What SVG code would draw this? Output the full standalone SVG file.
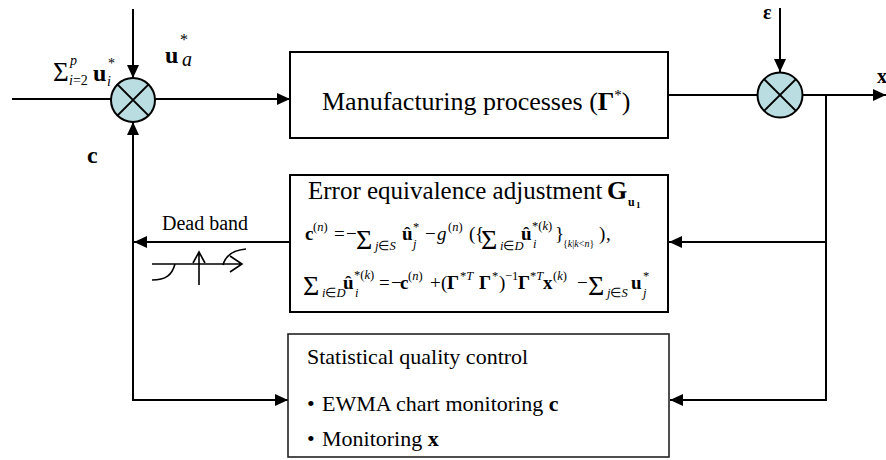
<svg xmlns="http://www.w3.org/2000/svg" width="886" height="460" viewBox="0 0 886 460">
  <style>
    text { font-family: "Liberation Serif", "Times New Roman", serif; fill: #000; }
    .box { fill: #fff; stroke: #000; stroke-width: 2; }
    .box3 { fill: #fff; stroke: #222; stroke-width: 1.6; }
    .sum { fill: #b9dde0; stroke: #000; stroke-width: 2; }
    .cross { stroke: #000; stroke-width: 2; fill: none; }
    .wire { stroke: #000; stroke-width: 2; fill: none; }
    .arrow { stroke: #000; stroke-width: 2; fill: none; marker-end: url(#head); }
    .thin { stroke: #000; stroke-width: 1.6; fill: none; }
    .b { font-weight: bold; }
    .i { font-style: italic; }
    .eq { font-size: 19px; }
    .sup { font-size: 12.5px; }
    .big { font-size: 28px; }
  </style>
  <defs>
    <marker id="head" markerUnits="userSpaceOnUse" markerWidth="14" markerHeight="12" refX="13" refY="6" orient="auto">
      <path d="M0,0 L13,6 L0,12 Z" fill="#000"/>
    </marker>
  </defs>

  <!-- connectors -->
  <g id="connectors">
    <path class="arrow" d="M133,9 V78"/>
    <path class="wire" d="M12,99 H111"/>
    <path class="arrow" d="M155,99 H290"/>
    <path class="wire" d="M668,95 H758"/>
    <path class="arrow" d="M780,8 V72"/>
    <path class="arrow" d="M802,95 H886"/>
    <path class="wire" d="M826,95 V401"/>
    <path class="arrow" d="M827,242 H669"/>
    <path class="arrow" d="M827,400 H670"/>
    <path class="arrow" d="M290,242 H134"/>
    <path class="arrow" d="M133,401 V122"/>
    <path class="arrow" d="M132,400 H288"/>
  </g>

  <!-- input summing junction -->
  <g id="sum-in">
    <circle class="sum" cx="133" cy="100" r="22"/>
    <path class="cross" d="M117.4,84.4 L148.6,115.6 M148.6,84.4 L117.4,115.6"/>
  </g>

  <!-- disturbance summing junction -->
  <g id="sum-out">
    <circle class="sum" cx="780" cy="95" r="22.5"/>
    <path class="cross" d="M764.1,79.1 L795.9,110.9 M795.9,79.1 L764.1,110.9"/>
  </g>

  <!-- signal labels -->
  <g id="labels">
    <text x="53" y="81" font-size="27">Σ</text>
    <text x="70" y="65" font-size="14" class="i">p</text>
    <text x="69" y="85" font-size="14"><tspan class="i">i</tspan>=2</text>
    <text x="93" y="81" font-size="24" class="b">u</text>
    <text x="108" y="68" font-size="14">*</text>
    <text x="107" y="86" font-size="14" class="i">i</text>

    <text x="165" y="63" font-size="24" class="b">u</text>
    <text x="180" y="45" font-size="16">*</text>
    <text x="182" y="66" font-size="20" class="i">a</text>

    <text x="87" y="163" font-size="24" class="b">c</text>
    <text x="763" y="19" font-size="20" class="b">ε</text>
    <text x="877" y="83" font-size="20" class="b">x</text>
  </g>

  <!-- process block -->
  <g id="process">
    <rect class="box" x="290" y="52" width="378" height="86"/>
    <text x="322" y="110" font-size="26">Manufacturing processes (<tspan class="b">Γ</tspan><tspan dy="-10" font-size="15">*</tspan><tspan dy="10">)</tspan></text>
  </g>

  <!-- adjustment block -->
  <g id="adjustment">
    <rect class="box" x="290" y="175" width="378" height="137"/>
    <text x="308" y="199" font-size="25">Error equivalence adjustment</text>
    <text x="607" y="199" font-size="26" class="b">G</text>
    <text x="628" y="206" font-size="12" class="b">u</text>
    <text x="636" y="208" font-size="9" class="b">1</text>

    <!-- c(n) equation -->
    <g class="eq-1">
      <text x="305" y="240" class="eq b">c</text>
      <text x="313" y="231" class="sup">(<tspan class="i">n</tspan>)</text>
      <text x="334" y="240" class="eq">=</text>
      <text x="346" y="240" class="eq">−</text>
      <text x="356" y="249" class="big">Σ</text>
      <text x="375" y="250" class="sup"><tspan class="i">j</tspan>∈<tspan class="i">S</tspan></text>
      <text x="402" y="240" class="eq b">û</text>
      <text x="413" y="231" class="sup">*</text>
      <text x="413" y="248" class="sup i">j</text>
      <text x="425" y="240" class="eq">−</text>
      <text x="437" y="240" class="eq i">g</text>
      <text x="448" y="231" class="sup">(<tspan class="i">n</tspan>)</text>
      <text x="469" y="240" class="eq">(</text>
      <text x="475" y="240" class="eq">{</text>
      <text x="481" y="249" class="big">Σ</text>
      <text x="500" y="250" class="sup"><tspan class="i">i</tspan>∈<tspan class="i">D</tspan></text>
      <text x="521" y="240" class="eq b">û</text>
      <text x="532" y="230" class="sup">*(<tspan class="i">k</tspan>)</text>
      <text x="533" y="248" class="sup i">i</text>
      <text x="555" y="240" class="eq">}</text>
      <text x="563" y="247" font-size="10">{<tspan class="i">k</tspan>|<tspan class="i">k</tspan>&lt;<tspan class="i">n</tspan>}</text>
      <text x="599" y="240" class="eq">)</text>
      <text x="606" y="240" class="eq">,</text>
    </g>

    <!-- adjustment sum equation -->
    <g class="eq-2">
      <text x="303" y="295" class="big">Σ</text>
      <text x="322" y="297" class="sup"><tspan class="i">i</tspan>∈<tspan class="i">D</tspan></text>
      <text x="343" y="289" class="eq b">û</text>
      <text x="354" y="279" class="sup">*(<tspan class="i">k</tspan>)</text>
      <text x="355" y="297" class="sup i">i</text>
      <text x="379" y="289" class="eq">=</text>
      <text x="391" y="289" class="eq">−</text>
      <text x="400" y="289" class="eq b">c</text>
      <text x="408" y="280" class="sup">(<tspan class="i">n</tspan>)</text>
      <text x="430" y="289" class="eq">+</text>
      <text x="441" y="289" class="eq">(</text>
      <text x="447" y="289" class="eq b">Γ</text>
      <text x="460" y="280" class="sup">*<tspan class="i">T</tspan></text>
      <text x="479" y="289" class="eq b">Γ</text>
      <text x="492" y="280" class="sup">*</text>
      <text x="499" y="289" class="eq">)</text>
      <text x="505" y="280" class="sup">−1</text>
      <text x="518" y="289" class="eq b">Γ</text>
      <text x="530" y="280" class="sup">*<tspan class="i">T</tspan></text>
      <text x="543" y="289" class="eq b">x</text>
      <text x="553" y="280" class="sup">(<tspan class="i">k</tspan>)</text>
      <text x="577" y="289" class="eq">−</text>
      <text x="588" y="295" class="big">Σ</text>
      <text x="607" y="297" class="sup"><tspan class="i">j</tspan>∈<tspan class="i">S</tspan></text>
      <text x="631" y="289" class="eq b">u</text>
      <text x="643" y="280" class="sup">*</text>
      <text x="643" y="297" class="sup i">j</text>
    </g>
  </g>

  <!-- dead band element on the feedback path -->
  <g id="dead-band">
    <text x="162" y="230" font-size="20">Dead band</text>
    <path class="thin" d="M152,264 H242 M230,256 L242,264 L230,272"/>
    <path class="thin" d="M199,285 V252 M193,263 L199,252 L205,263"/>
    <path class="thin" d="M152,280 C166,280 172,275 175,264"/>
    <path class="thin" d="M223,265 C226,254 234,250 246,249"/>
  </g>

  <!-- statistical quality control block -->
  <g id="spc">
    <rect class="box3" x="288" y="334" width="381" height="123"/>
    <text x="307" y="364" font-size="22">Statistical quality control</text>
    <text x="307" y="411" font-size="22">•</text>
    <text x="322" y="411" font-size="22">EWMA chart monitoring <tspan class="b">c</tspan></text>
    <text x="307" y="446" font-size="22">•</text>
    <text x="322" y="446" font-size="22">Monitoring <tspan class="b">x</tspan></text>
  </g>
</svg>
